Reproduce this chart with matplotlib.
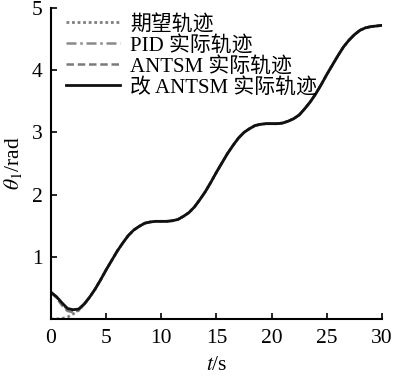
import numpy as np
import matplotlib
matplotlib.use("Agg")
import matplotlib.pyplot as plt

plt.rcParams['font.family'] = ['Liberation Serif', 'Noto Sans CJK SC']
plt.rcParams['mathtext.fontset'] = 'stix'

# time axis, 0.5 s steps
t = np.arange(0, 30.01, 0.5)

# desired trajectory
desired = [0.00, 0.00, 0.01, 0.03, 0.08, 0.14, 0.23, 0.35, 0.48, 0.63,
           0.79, 0.94, 1.09, 1.22, 1.34, 1.43, 1.49, 1.54, 1.56, 1.57,
           1.57, 1.57, 1.58, 1.60, 1.65, 1.71, 1.80, 1.92, 2.05, 2.20,
           2.36, 2.51, 2.66, 2.79, 2.91, 3.00, 3.06, 3.11, 3.13, 3.14,
           3.14, 3.14, 3.15, 3.18, 3.22, 3.28, 3.38, 3.49, 3.62, 3.77,
           3.93, 4.08, 4.23, 4.37, 4.48, 4.57, 4.64, 4.68, 4.70, 4.71,
           4.72]

# transient part (t = 0 .. 3 s) of the actual trajectories
pid_start = [0.43, 0.35, 0.24, 0.15, 0.12, 0.15, 0.23]
antsm_start = [0.43, 0.34, 0.22, 0.13, 0.11, 0.14, 0.23]
imp_start = [0.43, 0.36, 0.26, 0.17, 0.15, 0.16, 0.24]

n0 = len(imp_start)
pid = pid_start + desired[n0:]
antsm = antsm_start + desired[n0:]
improved = imp_start + desired[n0:]

fig = plt.figure(figsize=(3.95, 3.78), dpi=100)
ax = fig.add_axes([0.129, 0.156, 0.838, 0.823])

ax.plot(t, desired, color='#808080', ls=(0, (1, 1)), lw=2.0, label='期望轨迹')
ax.plot(t, pid, color='#8a8a8a', ls=(0, (4, 1.5, 1, 1.5)), lw=1.8, label='PID 实际轨迹')
ax.plot(t, antsm, color='#7a7a7a', ls=(0, (3, 1.5)), lw=1.8, label='ANTSM 实际轨迹')
ax.plot(t, improved, color='#111111', lw=2.0, label='改 ANTSM 实际轨迹')

ax.set_xlim(0, 30)
ax.set_ylim(0, 5)
ax.set_xticks([0, 5, 10, 15, 20, 25, 30])
ax.set_yticks([1, 2, 3, 4, 5])
ax.tick_params(direction='in', length=4, width=1.2, labelsize=15.5)
ax.tick_params(axis='x', pad=7)
ax.tick_params(axis='y', pad=6)

for s in ['top', 'right']:
    ax.spines[s].set_visible(False)
for s in ['left', 'bottom']:
    ax.spines[s].set_linewidth(1.5)

ax.set_xlabel(r'$t$/s', fontsize=15.5, labelpad=6)
ax.set_ylabel(r'$\theta_1$/rad', fontsize=15.5, labelpad=6)

ax.legend(loc='upper left', bbox_to_anchor=(0.0, 1.025), frameon=False,
          fontsize=15, handlelength=2.6, handletextpad=0.5,
          labelspacing=0.05, borderaxespad=0.3)

fig.savefig('out.png', dpi=100)
